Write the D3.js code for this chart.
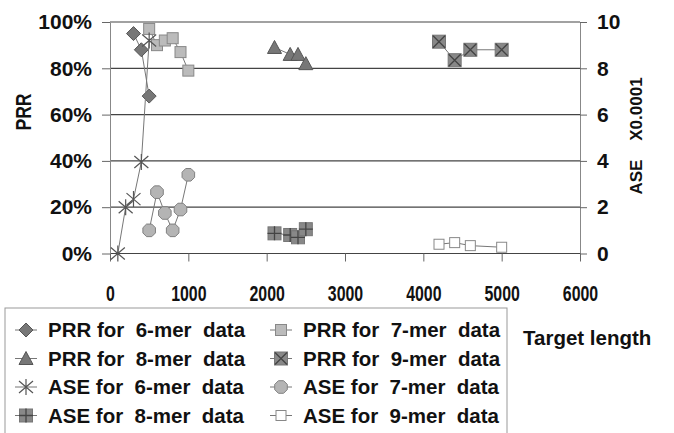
<!DOCTYPE html>
<html>
<head>
<meta charset="utf-8">
<script src="https://cdn.jsdelivr.net/npm/d3@7"></script>
<style>
  body { margin: 0; background: #fff; }
  svg text { font-family: Arial, "Liberation Sans", sans-serif; font-weight: bold; fill: #111; white-space: pre; }
</style>
</head>
<body>
<div id="chart"></div>
<script>
// target lengths and values
var x6 = [300, 400, 500];
var prr6 = [0.95, 0.88, 0.68];
var x7 = [500, 600, 700, 800, 900, 1000];
var prr7 = [0.97, 0.90, 0.92, 0.93, 0.87, 0.79];
var x8 = [2100, 2300, 2400, 2500];
var prr8 = [0.89, 0.86, 0.86, 0.82];
var x9 = [4200, 4400, 4600, 5000];
var prr9 = [0.915, 0.835, 0.88, 0.88];

var xAse6 = [100, 200, 300, 400, 500];
var ase6 = [0, 2.0, 2.35, 3.95, 9.2];
var ase7 = [1.0, 2.65, 1.75, 1.0, 1.9, 3.4];
var ase8 = [0.87, 0.8, 0.7, 1.05];
var ase9 = [0.4, 0.47, 0.34, 0.27];

var xTicks = [0, 1000, 2000, 3000, 4000, 5000, 6000];
var prrTicks = [0, 0.2, 0.4, 0.6, 0.8, 1.0];
var aseTicks = [0, 2, 4, 6, 8, 10];

var legendLabels = ["PRR for  6-mer  data", "PRR for  7-mer  data",
                    "PRR for  8-mer  data", "PRR for  9-mer  data",
                    "ASE for  6-mer  data", "ASE for  7-mer  data",
                    "ASE for  8-mer  data", "ASE for  9-mer  data"];

var w = 674, h = 433;
var plotL = 110, plotR = 580, plotT = 22, plotB = 253.5;

var xScale = d3.scaleLinear().domain([0, 6000]).range([plotL, plotR]);
var yPrr = d3.scaleLinear().domain([0, 1]).range([plotB, plotT]);
var yAse = d3.scaleLinear().domain([0, 10]).range([plotB, plotT]);

var svg = d3.select('#chart').append('svg')
            .attr('width', w)
            .attr('height', h);

// marker shapes
var markers = {
  diamond: function(g) {
    g.append('path').attr('d', 'M0,-7L7,0L0,7L-7,0Z')
     .attr('fill', '#777').attr('stroke', '#555');
  },
  square: function(g) {
    g.append('rect').attr('x', -5.5).attr('y', -5.5).attr('width', 11).attr('height', 11)
     .attr('fill', '#bbb').attr('stroke', '#888');
  },
  triangle: function(g) {
    g.append('path').attr('d', 'M0,-7L7,6L-7,6Z')
     .attr('fill', '#777').attr('stroke', '#555');
  },
  squareX: function(g) {
    g.append('rect').attr('x', -6.5).attr('y', -6.5).attr('width', 13).attr('height', 13)
     .attr('fill', '#888').attr('stroke', '#777');
    g.append('path').attr('d', 'M-6,-6L6,6M6,-6L-6,6')
     .attr('stroke', '#444').attr('stroke-width', 1.3);
  },
  star: function(g) {
    g.append('path').attr('d', 'M0,-8L0,8M-7,-6L7,6M7,-6L-7,6')
     .attr('stroke', '#555').attr('stroke-width', 1.2).attr('fill', 'none');
  },
  octagon: function(g) {
    var pts = d3.range(8).map(function(i) {
      var a = Math.PI / 8 + i * Math.PI / 4;
      return [6.8 * Math.cos(a), 6.8 * Math.sin(a)];
    });
    g.append('path').attr('d', 'M' + pts.join('L') + 'Z')
     .attr('fill', '#b4b4b4').attr('stroke', '#808080');
  },
  squarePlus: function(g) {
    g.append('rect').attr('x', -6.5).attr('y', -6.5).attr('width', 13).attr('height', 13)
     .attr('fill', '#888').attr('stroke', '#777');
    g.append('path').attr('d', 'M0,-7L0,7M-7,0L7,0')
     .attr('stroke', '#444').attr('stroke-width', 1.3);
  },
  openSquare: function(g) {
    g.append('rect').attr('x', -5).attr('y', -5).attr('width', 10).attr('height', 10)
     .attr('fill', '#fff').attr('stroke', '#888');
  }
};

var series = [
  { xs: x6, ys: prr6, y: yPrr, marker: 'diamond' },
  { xs: x7, ys: prr7, y: yPrr, marker: 'square' },
  { xs: x8, ys: prr8, y: yPrr, marker: 'triangle' },
  { xs: x9, ys: prr9, y: yPrr, marker: 'squareX' },
  { xs: xAse6, ys: ase6, y: yAse, marker: 'star' },
  { xs: x7, ys: ase7, y: yAse, marker: 'octagon' },
  { xs: x8, ys: ase8, y: yAse, marker: 'squarePlus' },
  { xs: x9, ys: ase9, y: yAse, marker: 'openSquare' }
];

// gridlines
svg.append('g').selectAll('line')
   .data(prrTicks)
   .enter()
   .append('line')
   .attr('x1', plotL).attr('x2', plotR)
   .attr('y1', function(d) { return yPrr(d); })
   .attr('y2', function(d) { return yPrr(d); })
   .attr('stroke', '#444').attr('stroke-width', 1.2);

// left axis
var gl = svg.append('g').attr('transform', 'translate(' + plotL + ',0)')
            .call(d3.axisLeft(yPrr).tickValues(prrTicks).tickSize(8).tickSizeOuter(0)
                  .tickFormat(d3.format('.0%')));
gl.select('.domain').attr('stroke', '#888');
gl.selectAll('.tick line').attr('stroke', '#666');
gl.selectAll('.tick text').attr('x', -18).attr('font-size', 21)
  .attr('font-family', null).attr('fill', '#111');

// right axis
var gr = svg.append('g').attr('transform', 'translate(' + plotR + ',0)')
            .call(d3.axisRight(yAse).tickValues(aseTicks).tickSize(7).tickSizeOuter(0));
gr.select('.domain').attr('stroke', '#888');
gr.selectAll('.tick line').attr('stroke', '#666');
gr.selectAll('.tick text').attr('x', 17).attr('font-size', 21)
  .attr('font-family', null).attr('fill', '#111');

// bottom axis
var gb = svg.append('g').attr('transform', 'translate(0,' + plotB + ')')
            .call(d3.axisBottom(xScale).tickValues(xTicks).tickSize(8).tickSizeOuter(0)
                  .tickFormat(d3.format('d')));
gb.select('.domain').remove();
gb.selectAll('.tick line').attr('stroke', '#666');
gb.selectAll('.tick text')
  .attr('y', 0).attr('dy', null)
  .attr('transform', 'translate(0,47) scale(0.74,1)')
  .attr('font-size', 21.5).attr('font-family', null).attr('fill', '#111');

// series lines and markers
series.forEach(function(s) {
  var line = d3.line()
               .x(function(d, i) { return xScale(s.xs[i]); })
               .y(function(d) { return s.y(d); });
  svg.append('path')
     .datum(s.ys)
     .attr('d', line)
     .attr('fill', 'none')
     .attr('stroke', '#777')
     .attr('stroke-width', 1);
  svg.append('g').selectAll('g')
     .data(s.ys)
     .enter()
     .append('g')
     .attr('transform', function(d, i) {
       return 'translate(' + xScale(s.xs[i]) + ',' + s.y(d) + ')';
     })
     .each(function() { markers[s.marker](d3.select(this)); });
});

// axis titles
svg.append('text')
   .attr('transform', 'translate(31,112) rotate(-90) scale(0.8,1)')
   .attr('text-anchor', 'middle')
   .attr('font-size', 22)
   .text('PRR');

svg.append('text')
   .attr('transform', 'translate(642,136) rotate(-90)')
   .attr('text-anchor', 'middle')
   .attr('font-size', 17)
   .text('ASE    X0.0001');

svg.append('text')
   .attr('x', 523).attr('y', 345)
   .attr('font-size', 20.5)
   .text('Target length');

// legend
svg.append('rect')
   .attr('x', 5).attr('y', 308)
   .attr('width', 502).attr('height', 140)
   .attr('fill', 'none').attr('stroke', '#999');

var lg = svg.append('g').selectAll('g')
            .data(series)
            .enter()
            .append('g')
            .attr('transform', function(d, i) {
              var cx = i % 2 === 0 ? 26 : 281;
              var cy = 330 + Math.floor(i / 2) * 28.5;
              return 'translate(' + cx + ',' + cy + ')';
            });
lg.append('line')
  .attr('x1', -11).attr('x2', 11)
  .attr('stroke', '#777');
lg.each(function(d) { markers[d.marker](d3.select(this)); });
lg.append('text')
  .attr('x', 22).attr('y', 7)
  .attr('font-size', 20.5)
  .text(function(d, i) { return legendLabels[i]; });
</script>
</body>
</html>
